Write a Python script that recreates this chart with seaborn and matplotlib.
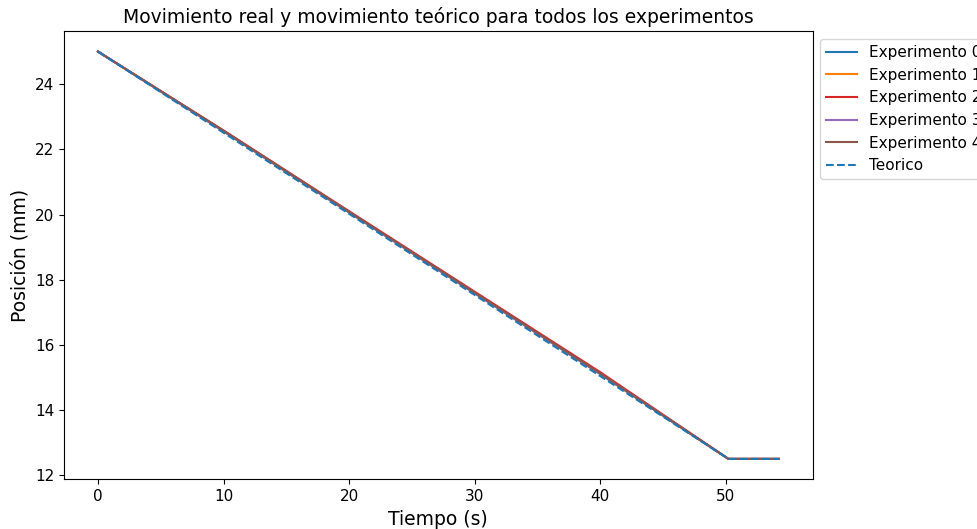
import matplotlib
matplotlib.use('Agg')
import matplotlib.pyplot as plt
import pandas as pd
import seaborn as sns

# tiempos (s) y posiciones (mm)
tiempo = [0, 10, 20, 30, 40, 50.2, 54.2]
exp_0 = [25.0, 22.55, 20.06, 17.58, 15.10, 12.5, 12.5]
exp_1 = [25.0, 22.56, 20.07, 17.59, 15.11, 12.5, 12.5]
exp_2 = [25.0, 22.58, 20.10, 17.63, 15.16, 12.5, 12.5]
exp_3 = [25.0, 22.56, 20.07, 17.59, 15.11, 12.5, 12.5]
exp_4 = [25.0, 22.57, 20.08, 17.60, 15.12, 12.5, 12.5]
teorico = [25.0, 22.51, 20.02, 17.53, 15.04, 12.5, 12.5]

experimentos = [exp_0, exp_1, exp_2, exp_3, exp_4]
colores = ['#1f77b4', '#ff7f0e', '#d62728', '#9467bd', '#8c564b']


def plot_movimiento():
    plt.rcParams['font.family'] = ['DejaVu Sans']
    plt.rcParams['font.size'] = 11
    fig, ax = plt.subplots(1, 1, figsize=(9.78, 5.29), dpi=100)
    fig.subplots_adjust(left=0.0654, right=0.831, top=0.941, bottom=0.094)
    for i, pos in enumerate(experimentos):
        df = pd.DataFrame({'t': tiempo, 'x': pos})
        sns.lineplot(data=df, x='t', y='x', ax=ax, color=colores[i],
                     label='Experimento %d' % i, linewidth=1.5)
    df = pd.DataFrame({'t': tiempo, 'x': teorico})
    sns.lineplot(data=df, x='t', y='x', ax=ax, color='#1f77b4',
                 linestyle='--', label='Teorico', linewidth=1.5)
    ax.set_xlabel('Tiempo (s)', fontsize=13.5)
    ax.set_ylabel('Posición (mm)', fontsize=13.5)
    ax.set_title('Movimiento real y movimiento teórico para todos los experimentos', fontsize=13.5)
    ax.set_xticks([0, 10, 20, 30, 40, 50])
    ax.set_yticks([12, 14, 16, 18, 20, 22, 24])
    ax.legend(bbox_to_anchor=(1, 1), loc='upper left')
    fig.savefig('out.png', dpi=100)


if __name__ == '__main__':
    plot_movimiento()
